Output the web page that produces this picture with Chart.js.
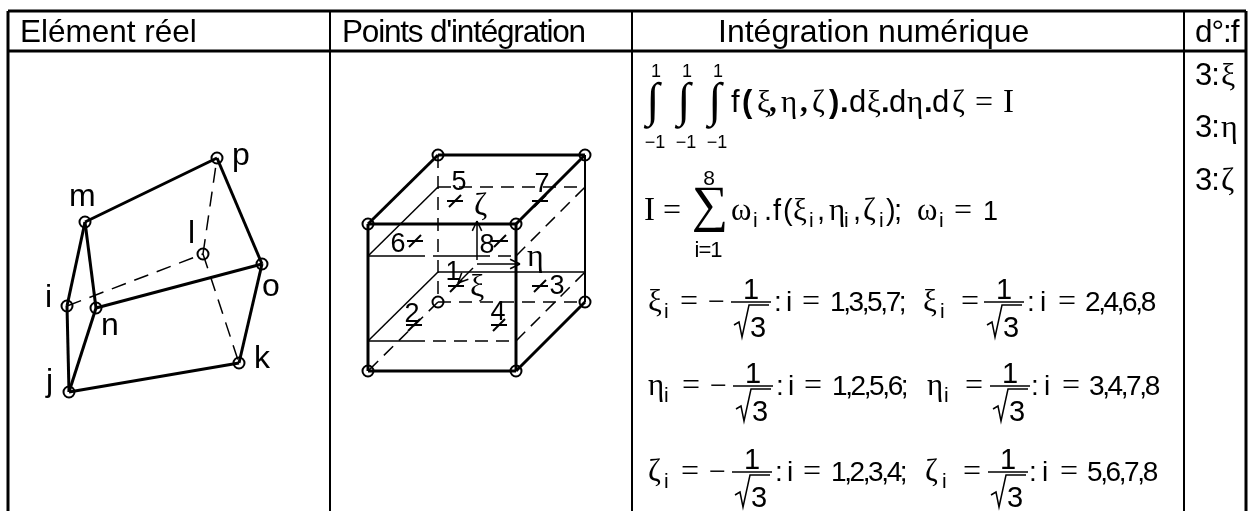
<!DOCTYPE html>
<html>
<head>
<meta charset="utf-8">
<title>Elément réel</title>
<script src="https://cdn.jsdelivr.net/npm/chart.js@4"></script>
<style>
  html, body { margin: 0; padding: 0; background: #fff; }
  #wrap { width: 1253px; height: 511px; }
</style>
</head>
<body>
<div id="wrap"><canvas id="fig"></canvas></div>
<script>
// --- Data ---
const headers = ['Elément réel', "Points d'intégration", 'Intégration numérique', 'd°:f'];
const degrees = ['3:', '3:', '3:'];
const degreeAxes = ['ξ', 'η', 'ζ'];

// table rules
const tableRows = [11, 51];
const tableCols = [8, 330, 632, 1184, 1246];

// real element nodes
const realNodes = {
  p: [217, 158], m: [85, 222], i: [67, 306], n: [96, 308],
  o: [262, 264], l: [203, 254], k: [239, 363], j: [69, 392]
};
const realSolid = ['mp', 'po', 'on', 'nm', 'mi', 'ij', 'jn', 'jk', 'ko'];
const realDashed = ['il', 'lp', 'lk'];

// cube nodes
const cubeNodes = {
  A: [438, 155], B: [585, 155], C: [368, 224], D: [516, 224],
  E: [438, 302], F: [585, 302], G: [368, 371], H: [516, 371]
};
const cubeSolid = ['AB', 'AC', 'CD', 'DB', 'CG', 'GH', 'HD', 'HF'];
const cubeLight = ['FB'];
const cubeDashed = ['AE', 'EF', 'EG'];

// gauss planes
const planeSolid = [[[368, 256], [438, 187]], [[368, 341], [438, 272]], [[438, 272], [585, 272]], [[368, 256], [412, 256]], [[438, 256], [477, 256]], [[368, 341], [412, 341]]];
const planeDashed = [[[438, 187], [585, 187]], [[412, 256], [438, 256]], [[477, 256], [516, 256]], [[516, 256], [585, 187]], [[412, 341], [516, 341]], [[516, 341], [585, 272]]];

// gauss points
const gaussLabels = ['1', '2', '3', '4', '5', '6', '7', '8'];
const gaussPoints = [[456, 286], [414, 325], [540, 286], [499, 325], [455, 201], [415, 241], [540, 201], [500, 241]];
const gaussText = [[453, 280], [412, 322], [557, 294], [498, 320], [459, 190], [398, 252], [542, 192], [487, 253]];

// local axes
const axisLabels = ['ζ', 'η', 'ξ'];
const axisArrows = [
  [[477, 260], [477, 221]],
  [[477, 264], [520, 264]],
  [[473, 268], [458, 283]]
];

// fraction bars, per row and per term
const fractionRows = [302, 386, 472];
const fractionCenters = [[751, 1004], [753, 1010], [752, 1008]];

// --- Datasets ---
const lineSet = (pts, width, dash) => ({
  data: pts.map(p => ({ x: p[0], y: p[1] })),
  showLine: true, pointRadius: 0, borderColor: '#000', borderWidth: width,
  borderDash: dash || [], clip: false, tension: 0
});
const edgeSets = (nodes, edges, width, dash) =>
  edges.map(e => lineSet([nodes[e[0]], nodes[e[1]]], width, dash));

const datasets = [];
tableRows.forEach(y => datasets.push(lineSet([[tableCols[0], y], [tableCols[4], y]], 3)));
tableCols.forEach((x, i) => datasets.push(lineSet([[x, tableRows[0]], [x, 511]], (i === 0 || i === 4) ? 3 : 2)));

datasets.push(...edgeSets(realNodes, realSolid, 3));
datasets.push(...edgeSets(realNodes, realDashed, 1.5, [15, 9]));
datasets.push(...edgeSets(cubeNodes, cubeSolid, 3));
datasets.push(...edgeSets(cubeNodes, cubeLight, 2));
datasets.push(...edgeSets(cubeNodes, cubeDashed, 1.5, [13, 8]));
planeSolid.forEach(s => datasets.push(lineSet(s, 1.5)));
planeDashed.forEach(s => datasets.push(lineSet(s, 1.5, [13, 8])));

gaussPoints.forEach(p => {
  datasets.push(lineSet([[p[0] - 8, p[1]], [p[0] + 8, p[1]]], 2));
  datasets.push(lineSet([[p[0] - 6, p[1] + 6], [p[0] + 6, p[1] - 6]], 2));
});
axisArrows.forEach(a => {
  datasets.push(lineSet(a, 1.5));
  const [x0, y0] = a[0], [x1, y1] = a[1];
  const ang = Math.atan2(y1 - y0, x1 - x0);
  [2.7, -2.7].forEach(d => datasets.push(lineSet([[x1, y1], [x1 + 11 * Math.cos(ang + d), y1 + 11 * Math.sin(ang + d)]], 1.5)));
});

fractionRows.forEach((y, r) => fractionCenters[r].forEach(cx => {
  datasets.push(lineSet([[cx - 20, y], [cx + 20, y]], 1.5));
  datasets.push(lineSet([[cx - 17, y + 23], [cx - 12, y + 20], [cx - 9, y + 35], [cx - 2, y + 3], [cx + 18, y + 3]], 1.5));
}));

const nodeSet = nodes => ({
  data: Object.values(nodes).map(p => ({ x: p[0], y: p[1] })),
  showLine: false, pointRadius: 5.5, pointBorderWidth: 2,
  pointBackgroundColor: 'rgba(0,0,0,0)', pointBorderColor: '#000', clip: false
});
datasets.push(nodeSet(realNodes), nodeSet(cubeNodes));

// --- Text, drawn on the chart through its scales ---
const SANS = '"Liberation Sans", Arial, sans-serif';
const SERIF = '"Liberation Serif", "Times New Roman", serif';

const textPlugin = {
  id: 'tableText',
  afterDatasetsDraw(chart) {
    const ctx = chart.ctx, sx = chart.scales.x, sy = chart.scales.y;
    const put = (s, x, y, size, fam, opts) => {
      const o = opts || {};
      ctx.save();
      ctx.fillStyle = '#000';
      ctx.textBaseline = 'alphabetic';
      ctx.textAlign = o.align || 'left';
      ctx.font = (o.bold ? 'bold ' : '') + size + 'px ' + fam;
      if (o.spacing !== undefined) ctx.letterSpacing = o.spacing + 'px';
      ctx.fillText(s, sx.getPixelForValue(x), sy.getPixelForValue(y));
      ctx.restore();
    };

    // header row
    put(headers[0], 20, 42, 31.5, SANS);
    put(headers[1], 342, 42, 31.5, SANS, { spacing: -1.2 });
    put(headers[2], 718, 42, 32, SANS);
    put(headers[3], 1195, 42, 31.5, SANS, { spacing: -1 });

    // last column
    [85, 137, 190].forEach((y, i) => {
      put(degrees[i], 1195, y, 31, SANS, { spacing: -1 });
      put(degreeAxes[i], 1221, y, 32, SERIF);
    });

    // node letters
    [['p', 232, 165], ['m', 69, 206], ['l', 188, 243], ['i', 45, 307], ['n', 101, 335], ['o', 262, 296], ['k', 254, 368], ['j', 46, 391]]
      .forEach(t => put(t[0], t[1], t[2], 32, SANS));

    // gauss labels
    gaussLabels.forEach((s, i) => put(s, gaussText[i][0], gaussText[i][1], 27, SANS, { align: 'center' }));
    put(axisLabels[0], 474, 215, 32, SERIF);
    put(axisLabels[1], 527, 266, 32, SERIF);
    put(axisLabels[2], 470, 296, 32, SERIF);

    // first formula
    [653, 684, 715].forEach(x => {
      put('1', x + 3, 77, 18, SANS, { align: 'center' });
      put('∫', x, 116, 48, SERIF, { align: 'center' });
      put('−1', x + 2, 148, 18, SANS, { align: 'center' });
    });
    const B1 = 112;
    [['f', 731, SANS, 0], ['(', 742, SANS, 1], ['ξ', 757, SERIF, 0], [',', 769, SERIF, 1], ['η', 781, SERIF, 0], [',', 800, SERIF, 1],
     ['ζ', 812, SERIF, 0], [')', 829, SANS, 1], ['.', 840, SANS, 1], ['d', 849, SANS, 0], ['ξ', 867, SERIF, 0], ['.', 881, SANS, 1],
     ['d', 889, SANS, 0], ['η', 907, SERIF, 0], ['.', 924, SANS, 1], ['d', 932, SANS, 0], ['ζ', 952, SERIF, 0]]
      .forEach(t => put(t[0], t[1], B1, 31, t[2], { bold: !!t[3] }));
    put('=', 975, B1, 32, SERIF);
    put('I', 1003, B1, 33, SERIF);

    // second formula
    const B2 = 220;
    put('I', 644, B2, 33, SERIF);
    put('=', 663, B2, 32, SERIF);
    put('∑', 692, B2 + 1, 51, SERIF);
    put('8', 709, 185, 21, SANS, { align: 'center' });
    put('i=1', 708, 257, 22, SANS, { align: 'center', spacing: -1 });
    put('ω', 731, B2, 31, SERIF);
    put('i', 753, B2 + 7, 21, SANS);
    put('.', 764, B2, 29, SANS); put('f', 773, B2, 29, SANS); put('(', 783, B2, 29, SANS);
    put('ξ', 793, B2, 31, SERIF); put('i', 809, B2 + 7, 21, SANS); put(',', 817, B2, 29, SANS);
    put('η', 829, B2, 31, SERIF); put('i', 844, B2 + 7, 21, SANS); put(',', 853, B2, 29, SANS);
    put('ζ', 863, B2, 31, SERIF); put('i', 879, B2 + 7, 21, SANS); put(')', 886, B2, 29, SANS); put(';', 894, B2, 29, SANS);
    put('ω', 917, B2, 31, SERIF); put('i', 939, B2 + 7, 21, SANS);
    put('=', 954, B2, 32, SERIF);
    put('1', 983, B2, 27, SANS);

    // rows of abscissae
    const rows = [
      { sym: 'ξ', a: '1,3,5,7;', b: '2,4,6,8', dx: [0, 0] },
      { sym: 'η', a: '1,2,5,6;', b: '3,4,7,8', dx: [2, 4] },
      { sym: 'ζ', a: '1,2,3,4;', b: '5,6,7,8', dx: [1, 2] }
    ];
    rows.forEach((r, k) => {
      const bar = fractionRows[k], y = bar + 9, d0 = r.dx[0], d1 = r.dx[1];
      const [c0, c1] = fractionCenters[k];
      put(r.sym, 648, y, 31, SERIF); put('i', 664, y + 7, 21, SANS);
      put('=', 680 + d0, y, 32, SERIF);
      put('−', 708 + d0, y, 30, SERIF);
      put('1', c0, bar - 3, 29, SANS, { align: 'center' });
      put('3', c0 + 7, bar + 35, 29, SANS, { align: 'center' });
      put(':', 774 + d0, y, 28, SANS);
      put('i', 786 + d0, y, 28, SANS);
      put('=', 802 + d0, y, 32, SERIF);
      put(r.a, 830 + d0, y, 28, SANS, { spacing: -2.4 });
      put(r.sym, 923 + d1, y, 31, SERIF); put('i', 940 + d1, y + 7, 21, SANS);
      put('=', 961 + d1, y, 32, SERIF);
      put('1', c1, bar - 3, 29, SANS, { align: 'center' });
      put('3', c1 + 7, bar + 35, 29, SANS, { align: 'center' });
      put(':', 1027 + d1, y, 28, SANS);
      put('i', 1040 + d1, y, 28, SANS);
      put('=', 1058 + d1, y, 32, SERIF);
      put(r.b, 1085 + d1, y, 28, SANS, { spacing: -2.4 });
    });
  }
};

new Chart(document.getElementById('fig'), {
  type: 'scatter',
  data: { datasets },
  plugins: [textPlugin],
  options: {
    responsive: true,
    maintainAspectRatio: false,
    animation: false,
    layout: { padding: 0, autoPadding: false },
    scales: {
      x: { type: 'linear', min: 0, max: 1253, display: false },
      y: { type: 'linear', min: 0, max: 511, reverse: true, display: false }
    },
    plugins: { legend: { display: false }, tooltip: { enabled: false } }
  }
});
</script>
</body>
</html>
